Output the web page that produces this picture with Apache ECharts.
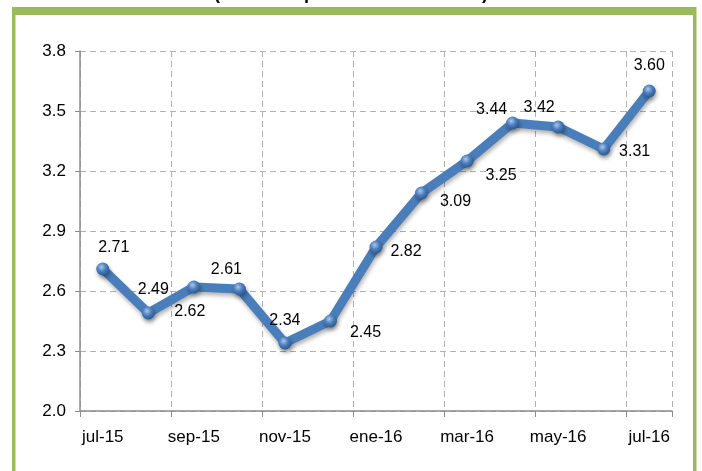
<!DOCTYPE html>
<html>
<head>
<meta charset="utf-8">
<script src="https://cdn.jsdelivr.net/npm/echarts@6/dist/echarts.min.js"></script>
<style>
html,body{margin:0;padding:0;background:#fff;}
#chart{width:702px;height:471px;}
</style>
</head>
<body>
<div id="chart"></div>
<script>
const categories = ['jul-15','ago-15','sep-15','oct-15','nov-15','dic-15','ene-16','feb-16','mar-16','abr-16','may-16','jun-16','jul-16'];
const values = [2.71, 2.49, 2.62, 2.61, 2.34, 2.45, 2.82, 3.09, 3.25, 3.44, 3.42, 3.31, 3.60];
const labelOffsets = [[11,-21],[5,-23],[-4,25],[-13,-19],[0,-22],[35,12],[30,5],[34,9],[34,15],[-21,-13],[-19,-19],[31,3],[0,-25]];
const titleText = '(variación porcentual 12 meses)';

const chart = echarts.init(document.getElementById('chart'), null, {renderer:'canvas'});
const font = 'Liberation Sans, Arial, sans-serif';
const green = '#9BBB59';

const seriesData = values.map((v,i)=>({
  value: v,
  label: {show:true, position:'inside', offset: labelOffsets[i], formatter: v.toFixed(2)}
}));

chart.setOption({
  animation:false,
  backgroundColor:'#fff',
  graphic:[
    {type:'text', left:'center', top:-15, style:{text:titleText, font:'bold 18px '+font, fill:'#000'}, z:0},
    {type:'rect', shape:{x:12,y:7,width:684,height:8}, style:{fill:green}, z:10},
    {type:'rect', shape:{x:12,y:7,width:3.5,height:470}, style:{fill:green}, z:10},
    {type:'rect', shape:{x:693,y:7,width:3.5,height:470}, style:{fill:green}, z:10}
  ],
  grid:{left:80, right:30, top:51, bottom:60, containLabel:false},
  xAxis:{
    type:'category',
    data:categories,
    boundaryGap:true,
    axisLine:{lineStyle:{color:'#8c8c8c', width:1.5}},
    axisTick:{show:true, interval:1, length:6, lineStyle:{color:'#8c8c8c'}},
    axisLabel:{interval:1, color:'#000', fontFamily:font, fontSize:17, margin:18},
    splitLine:{show:true, interval:1, lineStyle:{color:'#b0b0b0', type:[6,4], width:1}}
  },
  yAxis:{
    type:'value',
    min:2.0, max:3.8, interval:0.3,
    axisLine:{show:true, lineStyle:{color:'#8c8c8c', width:1.5}},
    axisTick:{show:true, length:5, lineStyle:{color:'#8c8c8c'}},
    axisLabel:{color:'#000', fontFamily:font, fontSize:17, margin:14, formatter:v=>v.toFixed(1)},
    splitLine:{show:true, lineStyle:{color:'#b0b0b0', type:[6,4], width:1}}
  },
  series:[{
    type:'line',
    data:seriesData,
    symbol:'circle',
    symbolSize:13,
    showAllSymbol:true,
    lineStyle:{color:'#4A7EBB', width:9, shadowColor:'rgba(0,0,0,0.3)', shadowBlur:4, shadowOffsetX:1, shadowOffsetY:3},
    itemStyle:{
      color:{type:'radial', x:0.4, y:0.35, r:0.65, colorStops:[{offset:0,color:'#A9C8EE'},{offset:0.5,color:'#4F81BD'},{offset:1,color:'#2A5A98'}]},
      borderWidth:0,
      shadowColor:'rgba(0,0,0,0.35)', shadowBlur:4, shadowOffsetX:1, shadowOffsetY:3
    },
    label:{show:true, color:'#000', fontFamily:font, fontSize:16},
    emphasis:{disabled:true},
    z:3
  }]
});
</script>
</body>
</html>
